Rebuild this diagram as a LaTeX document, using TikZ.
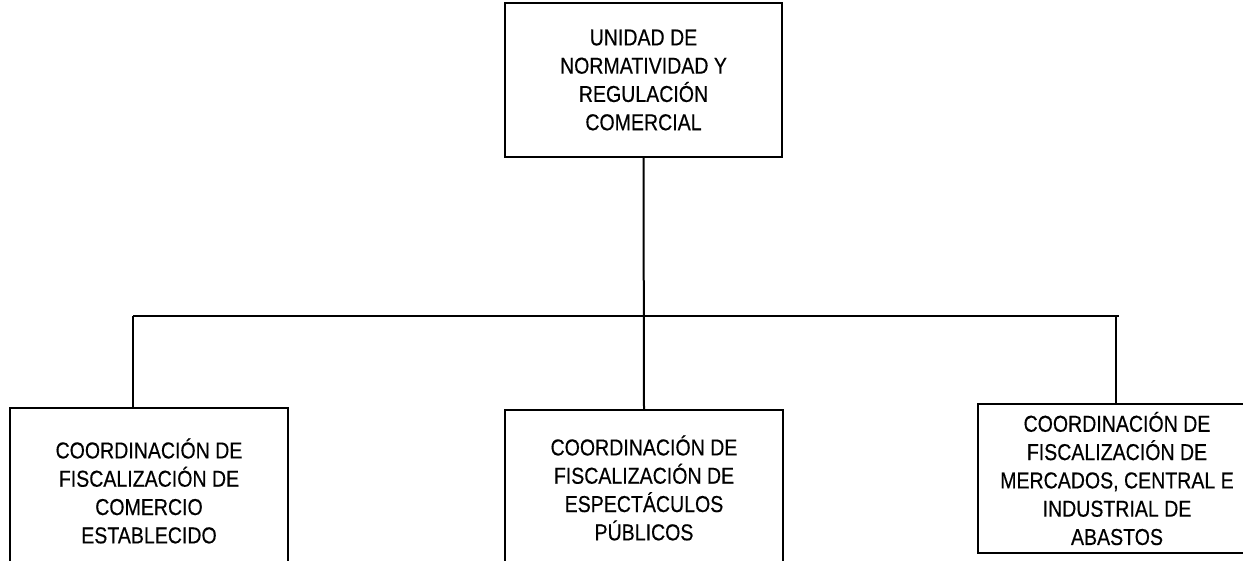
\documentclass[tikz,border=0pt]{standalone}
\usepackage{fontspec}
\setmainfont{Liberation Sans}[FakeStretch=0.85,FakeBold=0.4]
\begin{document}
\begin{tikzpicture}[x=0.5pt,y=-0.5pt,
  orgbox/.style={draw=black, line width=0.9pt, fill=white, align=center,
    inner sep=0pt, font=\fontsize{11.5pt}{14.15pt}\selectfont},
  link/.style={line width=1pt, draw=black}]
\useasboundingbox (0,0) rectangle (1243,561);
\clip (0,0) rectangle (1243,561);
\node[orgbox, minimum width=138.5pt, minimum height=77pt] (top) at (643.5,80)
  {UNIDAD DE\\NORMATIVIDAD Y\\REGULACIÓN\\COMERCIAL};
\node[orgbox, minimum width=139pt, minimum height=83pt] (lbox) at (149,491)
  {COORDINACIÓN DE\\FISCALIZACIÓN DE\\COMERCIO\\ESTABLECIDO};
\node[orgbox, minimum width=139pt, minimum height=78pt] (mbox) at (644,488)
  {COORDINACIÓN DE\\FISCALIZACIÓN DE\\ESPECTÁCULOS\\PÚBLICOS};
\node[orgbox, minimum width=160pt, minimum height=74.5pt, anchor=west] (rbox) at (977,478.5) {};
\node[font=\fontsize{11.5pt}{14.15pt}\selectfont, align=center, inner sep=0pt] (rtext) at (1117,478.5)
  {COORDINACIÓN DE\\FISCALIZACIÓN DE\\MERCADOS, CENTRAL E\\INDUSTRIAL DE\\ABASTOS};
\coordinate (jl) at (133,316);
\coordinate (jr) at (1116,316);
\coordinate (jend) at (1119,316);
\draw[link] (top.south) -- (mbox.north);
\draw[link] (jl) -- (jend);
\draw[link] (jl) -- (jl |- lbox.north);
\draw[link] (jr) -- (jr |- rbox.north);
\end{tikzpicture}
\end{document}
